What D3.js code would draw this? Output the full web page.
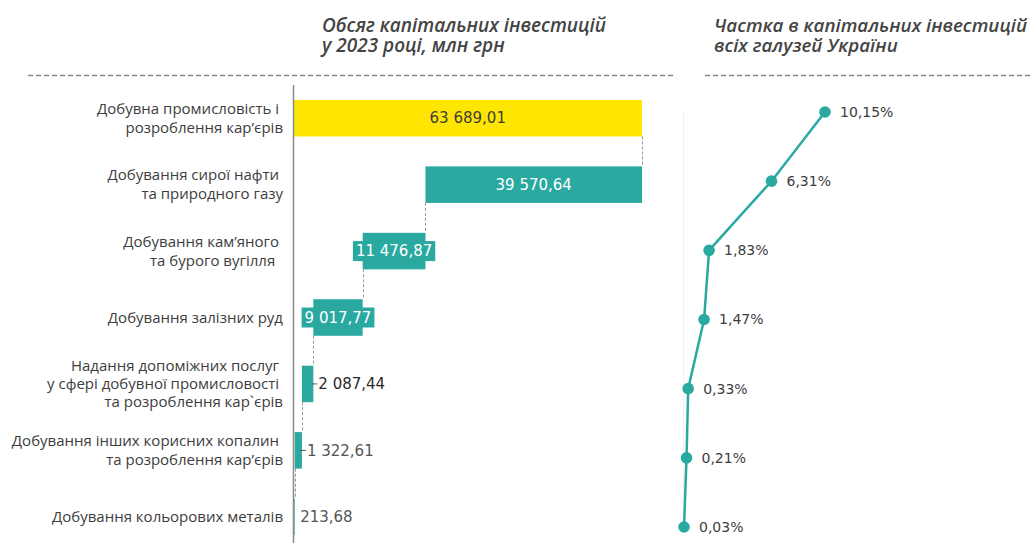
<!DOCTYPE html>
<html>
<head>
<meta charset="utf-8">
<script src="https://cdn.jsdelivr.net/npm/d3@7"></script>
<style>
  html, body { margin: 0; padding: 0; background: #fff; }
  svg { display: block; }
  text { font-family: "Open Sans", "DejaVu Sans", sans-serif; }
  .num { font-family: "DejaVu Sans", "Open Sans", sans-serif; }
</style>
</head>
<body>
<svg id="chart" width="1033" height="543"></svg>
<script>
// Sector names (multi-line labels)
const categories = [
  ["Добувна промисловість і\u00a0", "розроблення кар’єрів"],
  ["Добування сирої нафти\u00a0", "та природного газу"],
  ["Добування кам’яного\u00a0", "та бурого вугілля\u00a0\u00a0"],
  ["Добування залізних руд"],
  ["Надання допоміжних послуг\u00a0", "у сфері добувної промисловості\u00a0", "та розроблення кар`єрів"],
  ["Добування інших корисних копалин\u00a0", "та розроблення кар’єрів"],
  ["Добування кольорових металів"]
];

// Capital investment 2023, mln UAH (first entry is the industry total)
const investments = [63689.01, 39570.64, 11476.87, 9017.77, 2087.44, 1322.61, 213.68];
const investmentLabels = ["63 689,01", "39 570,64", "11 476,87", "9 017,77", "2 087,44", "1 322,61", "213,68"];

// Share in capital investment of all sectors of Ukraine, %
const shares = [10.15, 6.31, 1.83, 1.47, 0.33, 0.21, 0.03];
const shareLabels = ["10,15%", "6,31%", "1,83%", "1,47%", "0,33%", "0,21%", "0,03%"];

const titleLeft = ["Обсяг капітальних інвестицій", "у 2023 році, млн грн"];
const titleRight = ["Частка в капітальних інвестицій", "всіх галузей України"];

const YELLOW = "#ffe600";
const TEAL = "#2aa9a1";
const TEXT = "#3d3d3d";

const svg = d3.select("#chart");
const idx = d3.range(categories.length);

// ---------- titles ----------
function title(lines, x, maxW) {
  const t = svg.append("text")
    .attr("fill", "#444")
    .attr("font-size", 19)
    .attr("font-style", "italic")
    .attr("font-weight", 600);
  lines.forEach((l, i) => t.append("tspan").attr("x", x).attr("y", 32 + i * 20).text(l));
  if (maxW) {
    const w = t.node().getBBox().width;
    if (w > maxW) t.attr("font-size", 19 * maxW / w);
  }
}
title(titleLeft, 322);
title(titleRight, 714, 314);

// dashed separators under titles
[[28, 673], [705, 1033]].forEach(([a, b]) => {
  svg.append("line")
    .attr("x1", a).attr("x2", b).attr("y1", 75.5).attr("y2", 75.5)
    .attr("stroke", "#8a8a8a").attr("stroke-width", 1.3)
    .attr("stroke-dasharray", "5,3");
});

// ---------- waterfall ----------
const total = investments[0];
const x = d3.scaleLinear().domain([0, total]).range([293.5, 642]);
const y = d3.scaleBand().domain(idx).range([85, 550]).paddingInner(0.45).paddingOuter(0.225);

// start / end of each bar
const spans = [];
let cursor = total;
idx.forEach(i => {
  if (i === 0) { spans.push([0, total]); return; }
  spans.push([cursor - investments[i], cursor]);
  cursor -= investments[i];
});

// connector lines between consecutive bars
const conn = svg.append("g");
idx.slice(0, -1).forEach(i => {
  const xx = Math.round(x(spans[i + 1][1])) + 0.5;
  conn.append("line")
    .attr("x1", xx).attr("x2", xx)
    .attr("y1", y(i) + y.bandwidth()).attr("y2", y(i + 1))
    .attr("stroke", "#9a9a9a").attr("stroke-width", 1)
    .attr("stroke-dasharray", "3,2");
});

const bars = svg.append("g");
idx.forEach(i => {
  const [s, e] = spans[i];
  bars.append("rect")
    .attr("x", x(s)).attr("y", y(i))
    .attr("width", Math.max(1, x(e) - x(s)))
    .attr("height", y.bandwidth())
    .attr("fill", i === 0 ? YELLOW : TEAL);
});

// y axis line
svg.append("line")
  .attr("x1", 293.5).attr("x2", 293.5).attr("y1", 85).attr("y2", 543)
  .attr("stroke", "#8a8a8a").attr("stroke-width", 1.5);

// value labels
const vals = svg.append("g");
idx.forEach(i => {
  const [s, e] = spans[i];
  const w = x(e) - x(s);
  const cy = y(i) + y.bandwidth() / 2;
  const cx = (x(s) + x(e)) / 2;
  const t = vals.append("text")
    .attr("class", "num")
    .attr("font-size", 15).attr("dy", "0.35em")
    .text(investmentLabels[i]);
  const tw = t.node().getComputedTextLength();
  if (w > tw + 12) {
    t.attr("x", cx).attr("y", cy).attr("text-anchor", "middle")
      .attr("fill", i === 0 ? TEXT : "#fff");
  } else if (w > 30) {
    vals.insert("rect", () => t.node())
      .attr("x", cx - tw / 2 - 3).attr("y", cy - 10)
      .attr("width", tw + 6).attr("height", 20)
      .attr("fill", TEAL);
    t.attr("x", cx).attr("y", cy).attr("text-anchor", "middle").attr("fill", "#fff");
  } else {
    const end = x(e);
    if (w > 4) {
      vals.append("line")
        .attr("x1", end - 2).attr("x2", end + 4)
        .attr("y1", cy).attr("y2", cy)
        .attr("stroke", "#555").attr("stroke-width", 1);
      t.attr("x", end + 5);
    } else {
      t.attr("x", end + 5.5);
    }
    t.attr("y", cy).attr("fill", i === 4 ? "#2a2a2a" : "#555");
  }
});

// category labels
const labs = svg.append("g");
idx.forEach(i => {
  const lines = categories[i];
  const lh = lines.length > 2 ? 18 : 19;
  const cy = y(i) + y.bandwidth() / 2;
  const t = labs.append("text")
    .attr("text-anchor", "end")
    .attr("font-size", 15)
    .attr("fill", TEXT);
  lines.forEach((l, k) => {
    t.append("tspan")
      .attr("x", 283)
      .attr("y", cy + (k - (lines.length - 1) / 2) * lh)
      .attr("dy", "0.35em")
      .text(l);
  });
});

// ---------- share line chart ----------
const xs = d3.scaleLinear().domain([0, 10.15]).range([683.6, 825]);
const ys = d3.scalePoint().domain(idx).range([112, 527]);

svg.append("line")
  .attr("x1", xs(0)).attr("x2", xs(0)).attr("y1", 112).attr("y2", 527)
  .attr("stroke", "#f3eeee").attr("stroke-width", 1);

svg.append("path")
  .datum(idx)
  .attr("fill", "none")
  .attr("stroke", TEAL)
  .attr("stroke-width", 2.5)
  .attr("d", d3.line().x(i => xs(shares[i])).y(i => ys(i)));

svg.append("g").selectAll("circle")
  .data(idx).join("circle")
  .attr("cx", i => xs(shares[i])).attr("cy", i => ys(i))
  .attr("r", 5.8).attr("fill", TEAL);

svg.append("g").selectAll("text")
  .data(idx).join("text")
  .attr("class", "num")
  .attr("x", i => xs(shares[i]) + 15).attr("y", i => ys(i))
  .attr("dy", "0.35em")
  .attr("font-size", 14)
  .attr("fill", TEXT)
  .text(i => shareLabels[i]);
</script>
</body>
</html>
